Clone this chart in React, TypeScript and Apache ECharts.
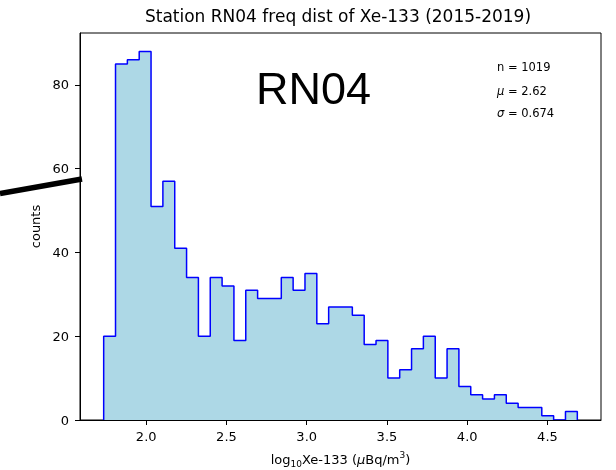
import React, { useEffect, useRef } from "react";
import * as echarts from "echarts";

// Histogram of log10 Xe-133 activity concentrations, station RN04
const binCounts = [
  20, 85, 86, 88, 51, 57, 41, 34, 20, 34,
  32, 19, 31, 29, 29, 34, 31, 35, 23, 27,
  27, 25, 18, 19, 10, 12, 17, 20, 10, 17,
  8, 6, 5, 6, 4, 3, 3, 1, 0, 2,
];
const binLow = 1.735;
const binHigh = 4.686;
const xTickValues = [2.0, 2.5, 3.0, 3.5, 4.0, 4.5];
const yTickValues = [0, 20, 40, 60, 80];
const sampleCount = 1019;
const sampleMean = 2.62;
const sampleStd = 0.674;
const stationName = "RN04";
const titleText = "Station RN04 freq dist of Xe-133 (2015-2019)";

const FONT = "DejaVu Sans";

export default function App() {
  const ref = useRef<HTMLDivElement>(null);

  useEffect(() => {
    if (!ref.current) return;
    const chart = echarts.init(ref.current, null, { renderer: "svg" });

    const nBins = binCounts.length;
    const width = (binHigh - binLow) / nBins;
    const edges = Array.from({ length: nBins + 1 }, (_, i) => binLow + i * width);

    // outline of the step-filled histogram
    const stepData: number[][] = [[edges[0], 0]];
    binCounts.forEach((c, i) => stepData.push([edges[i], c]));
    stepData.push([edges[nBins], binCounts[nBins - 1]]);
    stepData.push([edges[nBins], 0]);

    const pad = 0.05 * (binHigh - binLow);
    const xMin = binLow - pad;
    const xMax = binHigh + pad;
    const yMax = Math.max(...binCounts) * 1.05;

    chart.setOption({
      animation: false,
      grid: {
        left: 80,
        top: 33,
        right: 15,
        bottom: 50,
        outerBoundsMode: "none",
        containLabel: false,
        show: true,
        borderColor: "#000",
        borderWidth: 1,
        backgroundColor: "transparent",
      },
      xAxis: {
        type: "value",
        min: xMin,
        max: xMax,
        z: 5,
        splitLine: { show: false },
        axisLine: { show: true, lineStyle: { color: "#000", width: 1 } },
        axisTick: {
          show: true,
          length: 5,
          customValues: xTickValues,
          lineStyle: { color: "#000" },
        },
        axisLabel: {
          customValues: xTickValues,
          formatter: (v: number) => v.toFixed(1),
          fontFamily: FONT,
          fontSize: 13,
          color: "#000",
          margin: 10,
        },
        name: "{t|log}{s|10}{t|Xe-133 (}{i|μ}{t|Bq/m}{p|3}{t|)}",
        nameLocation: "middle",
        nameGap: 30,
        nameTextStyle: {
          fontFamily: FONT,
          fontSize: 13,
          color: "#000",
          rich: {
            t: { fontFamily: FONT, fontSize: 13, lineHeight: 18, color: "#000" },
            i: { fontFamily: FONT, fontSize: 13, lineHeight: 18, fontStyle: "italic", color: "#000" },
            s: { fontFamily: FONT, fontSize: 9, lineHeight: 9, verticalAlign: "bottom", color: "#000" },
            p: { fontFamily: FONT, fontSize: 9, lineHeight: 9, verticalAlign: "top", color: "#000" },
          },
        },
      },
      yAxis: {
        type: "value",
        min: 0,
        max: yMax,
        z: 5,
        splitLine: { show: false },
        axisLine: { show: true, lineStyle: { color: "#000", width: 1 } },
        axisTick: {
          show: true,
          length: 5,
          customValues: yTickValues,
          lineStyle: { color: "#000" },
        },
        axisLabel: {
          customValues: yTickValues,
          fontFamily: FONT,
          fontSize: 13,
          color: "#000",
          margin: 11,
        },
        name: "counts",
        nameLocation: "middle",
        nameRotate: 90,
        nameGap: 37,
        nameTextStyle: { fontFamily: FONT, fontSize: 13, color: "#000" },
      },
      series: [
        {
          type: "line",
          step: "end",
          data: stepData,
          symbol: "none",
          z: 2,
          lineStyle: { color: "#0000ff", width: 1.5 },
          areaStyle: { color: "#add8e6", opacity: 1 },
        },
      ],
      graphic: [
        {
          type: "text",
          x: 338,
          y: 15.5,
          style: {
            text: titleText,
            fontFamily: FONT,
            fontSize: 17,
            fill: "#000",
            align: "center",
            verticalAlign: "middle",
          },
        },
        {
          type: "text",
          x: 256,
          y: 88,
          style: {
            text: stationName,
            fontFamily: "Liberation Sans",
            fontSize: 45,
            fill: "#000",
            align: "left",
            verticalAlign: "middle",
          },
        },
        {
          type: "text",
          x: 497,
          y: 67.3,
          style: {
            text: `n = ${sampleCount}`,
            fontFamily: FONT,
            fontSize: 11.5,
            fill: "#000",
            align: "left",
            verticalAlign: "middle",
          },
        },
        {
          type: "text",
          x: 497,
          y: 90.7,
          style: {
            text: `{i|μ} = ${sampleMean}`,
            fontFamily: FONT,
            fontSize: 11.5,
            fill: "#000",
            align: "left",
            verticalAlign: "middle",
            rich: { i: { fontFamily: FONT, fontSize: 11.5, fontStyle: "italic", fill: "#000" } },
          },
        },
        {
          type: "text",
          x: 497,
          y: 113.3,
          style: {
            text: `{i|σ} = ${sampleStd}`,
            fontFamily: FONT,
            fontSize: 11.5,
            fill: "#000",
            align: "left",
            verticalAlign: "middle",
            rich: { i: { fontFamily: FONT, fontSize: 11.5, fontStyle: "italic", fill: "#000" } },
          },
        },
        {
          // pointer stroke reaching the 60 mark
          type: "line",
          shape: { x1: 0, y1: 193.5, x2: 82, y2: 179 },
          style: { stroke: "#000", lineWidth: 5.5, lineCap: "butt" },
          z: 10,
        },
      ],
    });

    return () => chart.dispose();
  }, []);

  return (
    <div
      ref={ref}
      style={{ position: "fixed", left: 0, top: 0, width: 616, height: 470 }}
    />
  );
}
